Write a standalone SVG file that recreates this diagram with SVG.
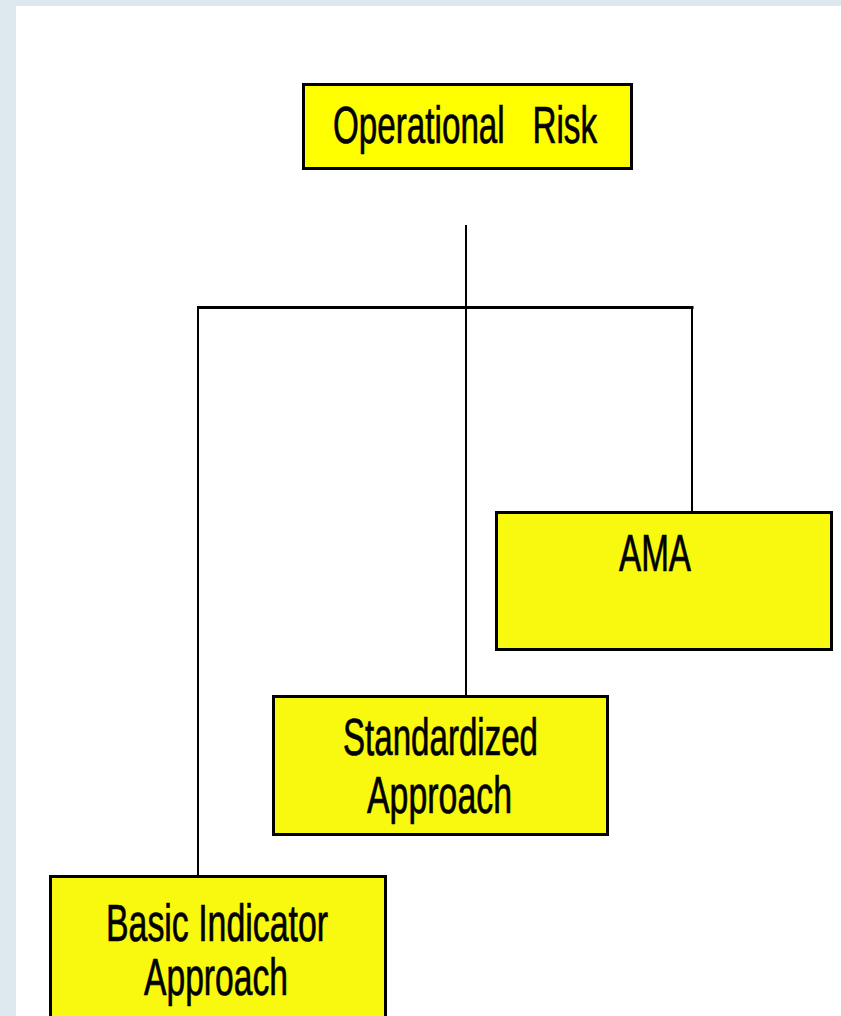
<svg xmlns="http://www.w3.org/2000/svg" width="841" height="1016" viewBox="0 0 841 1016">
<style>
.box{stroke:#000;stroke-width:3}
.top{fill:#ffff00}
.sub{fill:#f9f90f}
.lbl{font-family:"Liberation Sans",Arial,sans-serif;font-size:51px;fill:#000;stroke:#000;stroke-width:0.7;white-space:pre}
.ln{stroke:#000;fill:none}
</style>
<rect x="0" y="0" width="841" height="1016" fill="#dde9ef"/>
<rect x="16" y="6" width="825" height="1010" fill="#ffffff"/>
<g id="connectors">
<line class="ln" x1="466" y1="225" x2="466" y2="696" stroke-width="2"/>
<line class="ln" x1="197" y1="307.5" x2="693.5" y2="307.5" stroke-width="3"/>
<line class="ln" x1="198" y1="307" x2="198" y2="876" stroke-width="2"/>
<line class="ln" x1="692" y1="307" x2="692" y2="512" stroke-width="2"/>
</g>
<g id="operational-risk">
<rect class="box top" x="303.5" y="84.5" width="328" height="84"/>
<text class="lbl" x="333" y="143" textLength="264" lengthAdjust="spacingAndGlyphs">Operational   Risk</text>
</g>
<g id="ama">
<rect class="box sub" x="496.5" y="512.5" width="335" height="137"/>
<text class="lbl" x="619" y="571" textLength="72" lengthAdjust="spacingAndGlyphs">AMA</text>
</g>
<g id="standardized">
<rect class="box sub" x="273.5" y="696.5" width="334" height="138"/>
<text class="lbl" x="343" y="755" textLength="195" lengthAdjust="spacingAndGlyphs">Standardized</text>
<text class="lbl" x="367" y="813" textLength="145" lengthAdjust="spacingAndGlyphs">Approach</text>
</g>
<g id="basic-indicator">
<rect class="box sub" x="50.5" y="876.5" width="335" height="200"/>
<text class="lbl" x="106" y="941" textLength="222" lengthAdjust="spacingAndGlyphs">Basic Indicator</text>
<text class="lbl" x="144" y="995" textLength="144" lengthAdjust="spacingAndGlyphs">Approach</text>
</g>
</svg>
